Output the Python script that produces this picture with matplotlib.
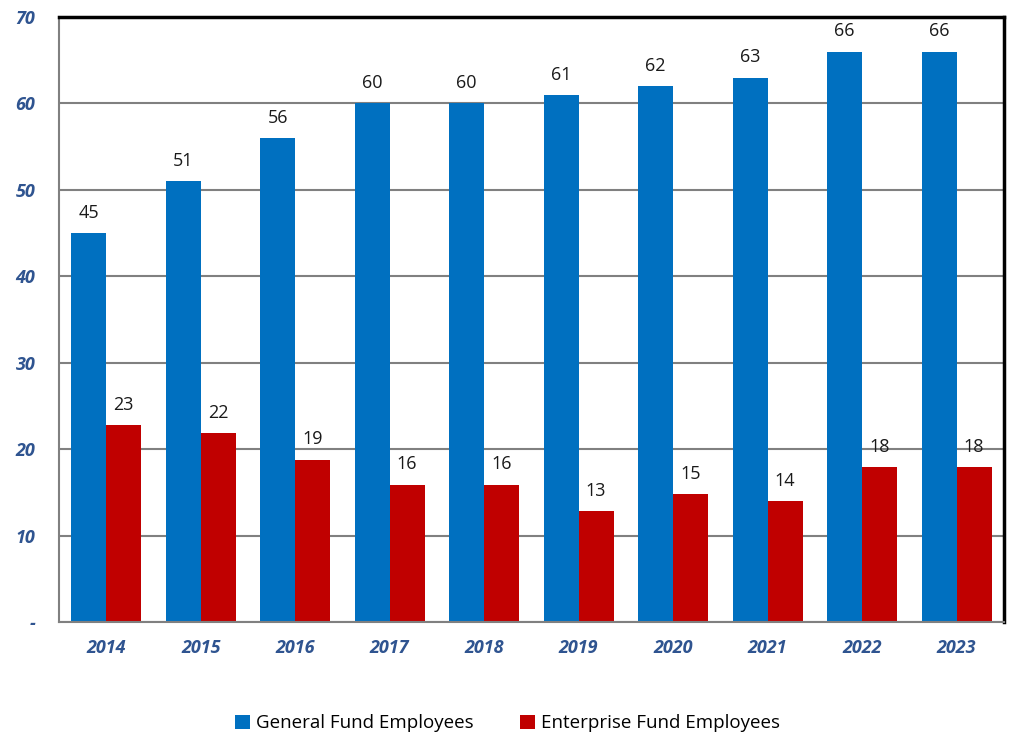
import numpy as np
import matplotlib
matplotlib.use("Agg")
import matplotlib.pyplot as plt

# data
years = ["2014", "2015", "2016", "2017", "2018", "2019", "2020", "2021", "2022", "2023"]
general_fund = [45, 51, 56, 60, 60, 61, 62, 63, 66, 66]
enterprise_fund = [22.8, 21.9, 18.8, 15.9, 15.9, 12.8, 14.8, 14, 17.9, 17.9]
ytick_vals = [0, 10, 20, 30, 40, 50, 60, 70]
ytick_labels = ["-", "10", "20", "30", "40", "50", "60", "70"]

blue = "#0070C0"
red = "#C00000"
tick_color = "#2F5490"

plt.rcParams["font.family"] = ["Open Sans", "DejaVu Sans"]

fig = plt.figure(figsize=(10.15, 7.42), dpi=100)
ax = fig.add_axes([0.0581, 0.1617, 0.9309, 0.8153])

x = np.arange(len(years))
w = 0.37
b1 = ax.bar(x - w / 2, general_fund, w, color=blue, label="General Fund Employees", zorder=2)
b2 = ax.bar(x + w / 2, enterprise_fund, w, color=red, label="Enterprise Fund Employees", zorder=2)

for bars in (b1, b2):
    for r in bars:
        ax.text(r.get_x() + r.get_width() / 2, r.get_height() + 1.3, f"{r.get_height():.0f}",
                ha="center", va="bottom", fontsize=13, color="#1a1a1a")

ax.set_xlim(-0.5, len(years) - 0.5)
ax.set_ylim(0, 70)
ax.set_yticks(ytick_vals)
ax.set_yticklabels(ytick_labels)
ax.set_xticks(x)
ax.set_xticklabels(years)
for lbl in ax.get_xticklabels() + ax.get_yticklabels():
    lbl.set_fontstyle("italic")
    lbl.set_fontweight("bold")
    lbl.set_color(tick_color)
    lbl.set_fontsize(13)
ax.tick_params(axis="both", length=0)
ax.tick_params(axis="x", pad=12)
ax.tick_params(axis="y", pad=17)

ax.yaxis.grid(True, color="#808080", linewidth=1.5, zorder=1)
ax.set_axisbelow(True)

ax.spines["left"].set_color("#808080")
ax.spines["left"].set_linewidth(1.5)
ax.spines["bottom"].set_color("#808080")
ax.spines["bottom"].set_linewidth(1.5)
ax.spines["top"].set_color("black")
ax.spines["top"].set_linewidth(2.5)
ax.spines["right"].set_color("black")
ax.spines["right"].set_linewidth(2.5)

fig.legend(handles=[b1, b2], loc="center", bbox_to_anchor=(0.5, 0.025), ncol=2,
           frameon=False, fontsize=13.5, handlelength=0.8, handleheight=0.8,
           handletextpad=0.3, columnspacing=2.5)

fig.savefig("out.png", dpi=100)
